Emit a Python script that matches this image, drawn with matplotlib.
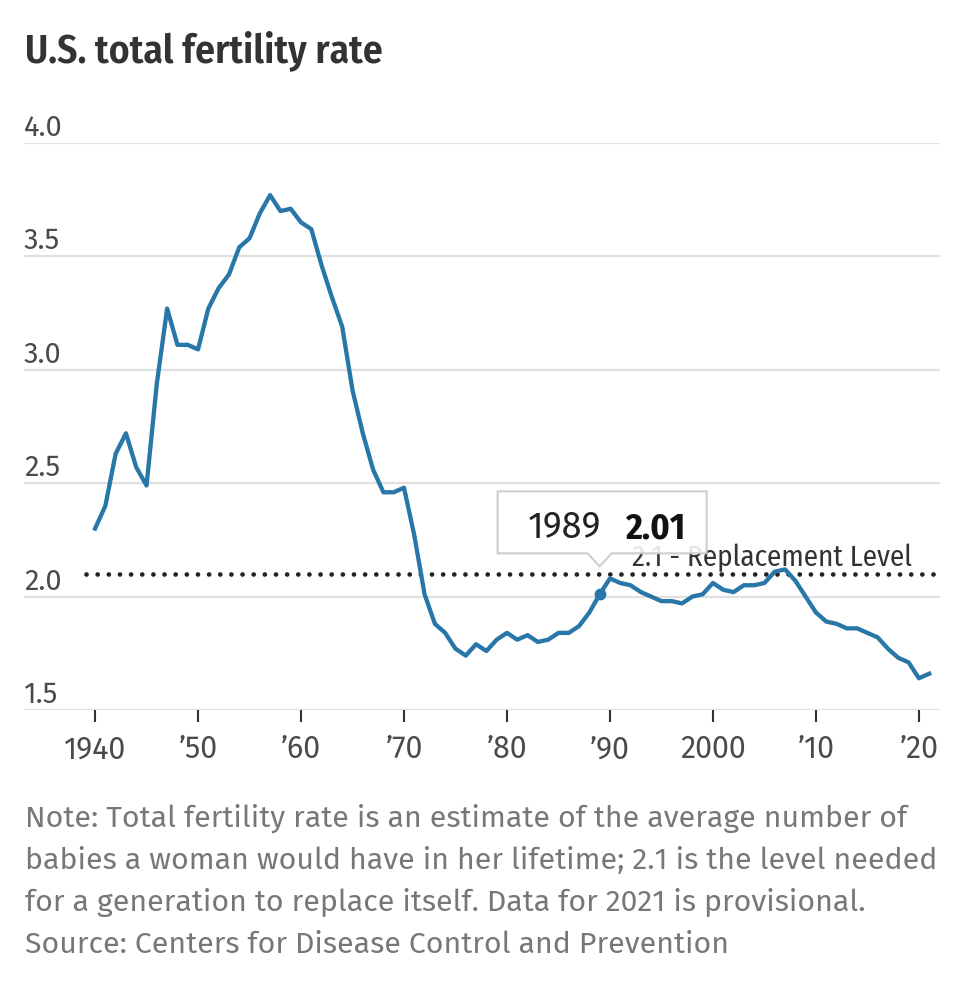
import matplotlib
matplotlib.use("Agg")
import matplotlib.pyplot as plt
import matplotlib.transforms as mtransforms
from matplotlib.patches import Polygon

# datos: tasa global de fecundidad de EE.UU.
anios = list(range(1940, 2022))
tasa = [2.30, 2.40, 2.63, 2.72, 2.57, 2.49, 2.94, 3.27, 3.11, 3.11,
        3.09, 3.27, 3.36, 3.42, 3.54, 3.58, 3.69, 3.77, 3.70, 3.71,
        3.65, 3.62, 3.46, 3.32, 3.19, 2.91, 2.72, 2.56, 2.46, 2.46,
        2.48, 2.27, 2.01, 1.88, 1.84, 1.77, 1.74, 1.79, 1.76, 1.81,
        1.84, 1.81, 1.83, 1.80, 1.81, 1.84, 1.84, 1.87, 1.93, 2.01,
        2.08, 2.06, 2.05, 2.02, 2.00, 1.98, 1.98, 1.97, 2.00, 2.01,
        2.06, 2.03, 2.02, 2.05, 2.05, 2.06, 2.11, 2.12, 2.07, 2.00,
        1.93, 1.89, 1.88, 1.86, 1.86, 1.84, 1.82, 1.77, 1.73, 1.71,
        1.64, 1.66]

xticks = [1940, 1950, 1960, 1970, 1980, 1990, 2000, 2010, 2020]
xtick_labels = ["1940", "\u201950", "\u201960", "\u201970", "\u201980",
                "\u201990", "2000", "\u201910", "\u201920"]
yticks = [1.5, 2.0, 2.5, 3.0, 3.5, 4.0]
ytick_labels = ["1.5", "2.0", "2.5", "3.0", "3.5", "4.0"]

reemplazo = 2.1
reemplazo_txt = "2.1 - Replacement Level"
anio_destacado = 1989
valor_destacado = 2.01

titulo = "U.S. total fertility rate"
notas = [
    "Note: Total fertility rate is an estimate of the average number of",
    "babies a woman would have in her lifetime; 2.1 is the level needed",
    "for a generation to replace itself. Data for 2021 is provisional.",
    "Source: Centers for Disease Control and Prevention",
]

fuente = ["Fira Sans", "Liberation Sans", "DejaVu Sans"]
angosta = ["Fira Sans Condensed", "Liberation Sans", "DejaVu Sans"]
plt.rcParams["font.family"] = fuente

azul = "#2877a8"
gris_grid = "#e0e0e0"
gris_txt = "#4a4a4a"

fig = plt.figure(figsize=(9.58, 9.89), dpi=100)
ax = fig.add_axes([24 / 958, 1 - 710 / 989, 916 / 958, 567 / 989])
ax.set_xlim(1933.1, 2022.05)
ax.set_ylim(1.5, 4.0)
for s in ax.spines.values():
    s.set_visible(False)

# lineas de grilla y etiquetas del eje y encima de cada linea
for v, lab in zip(yticks, ytick_labels):
    ax.axhline(v, color=gris_grid, lw=1.6, zorder=1)
    ax.annotate(lab, xy=(0, v), xycoords=ax.get_yaxis_transform(),
                xytext=(0, 7), textcoords="offset pixels",
                ha="left", va="baseline", fontsize=21, color=gris_txt)
ax.set_yticks([])

ax.set_xticks(xticks)
ax.set_xticklabels(xtick_labels, fontsize=22, color=gris_txt)
ax.tick_params(axis="x", length=8.6, width=1.5, color="#333333", pad=9)

# nivel de reemplazo
ax.axhline(reemplazo, xmin=(86 - 24) / 916, xmax=1, color="#222222", lw=3.4,
           linestyle=(0, (0.01, 2.35)), dash_capstyle="round", zorder=2)
ax.annotate(reemplazo_txt, xy=(0.9694, reemplazo), xycoords=ax.get_yaxis_transform(),
            xytext=(0, 8), textcoords="offset pixels", ha="right", va="baseline",
            fontsize=21, family=angosta, color="#333333", zorder=2)

ax.plot(anios, tasa, color=azul, lw=3.1, solid_joinstyle="round", zorder=3)
ax.plot([anio_destacado], [valor_destacado], "o", color=azul, ms=7.5, zorder=4)

# tooltip
px, py = ax.transData.transform((anio_destacado, valor_destacado))
trans = mtransforms.Affine2D().translate(px, py)
caja = Polygon([(-102, 41), (-12, 41), (0, 28), (12, 41), (107, 41), (107, 103), (-102, 103)],
               closed=True, transform=trans, facecolor="white", alpha=0.88,
               edgecolor="#c8c8c8", lw=1.5, zorder=5)
ax.add_patch(caja)
ax.annotate(str(anio_destacado), xy=(anio_destacado, valor_destacado),
            xytext=(-72, 56), textcoords="offset pixels", ha="left", va="baseline",
            fontsize=26, color="#222222", zorder=6)
ax.annotate(f"{valor_destacado:.2f}", xy=(anio_destacado, valor_destacado),
            xytext=(25, 56), textcoords="offset pixels", ha="left", va="baseline",
            fontsize=26, family=angosta, fontweight="bold", color="#111111", zorder=6)

fig.text(25 / 958, 1 - 62 / 989, titulo, ha="left", va="baseline",
         fontsize=28.5, family=angosta, fontweight="semibold", color="#333333")

for i, linea in enumerate(notas):
    fig.text(25 / 958, 1 - (827 + 42 * i) / 989, linea, ha="left", va="baseline",
             fontsize=21.8, color="#777777")

fig.savefig("out.png", dpi=100, facecolor="white")
